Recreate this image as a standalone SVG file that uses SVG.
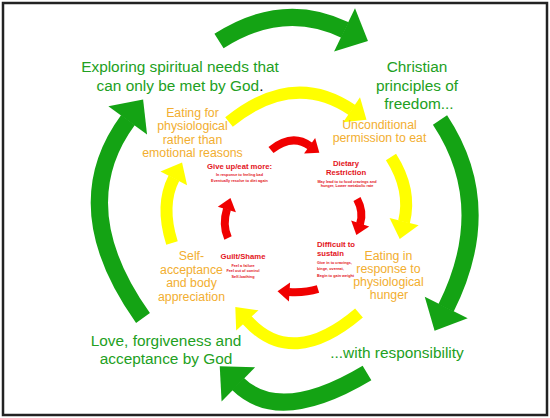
<svg xmlns="http://www.w3.org/2000/svg" width="550" height="418" viewBox="0 0 550 418">
<style>
text{font-family:"Liberation Sans",Arial,sans-serif;}
.g{fill:#22a022;font-size:15.4px;text-anchor:middle;}
.y{fill:#f2ae30;font-size:12.3px;text-anchor:middle;}
.rt{fill:#e3141c;font-size:7.7px;font-weight:bold;}
.rs{fill:#e3141c;font-size:3.8px;font-weight:bold;}
.ag{fill:none;stroke:#14a314;stroke-width:17;marker-end:url(#mg);}
.ay{fill:none;stroke:#ffff00;stroke-width:12;marker-end:url(#my);}
.ar{fill:none;stroke:#f00000;stroke-width:8;marker-end:url(#mr);}
</style>
<defs>
<marker id="mg" markerUnits="userSpaceOnUse" orient="auto" viewBox="-2 -30 40 60" markerWidth="40" markerHeight="60" refX="0.5" refY="0" overflow="visible"><path d="M0,-24L26,0L0,24Z" fill="#14a314"/></marker>
<marker id="my" markerUnits="userSpaceOnUse" orient="auto" viewBox="-2 -20 30 40" markerWidth="30" markerHeight="40" refX="0.5" refY="0" overflow="visible"><path d="M0,-15L18,0L0,15Z" fill="#ffff00"/></marker>
<marker id="mr" markerUnits="userSpaceOnUse" orient="auto" viewBox="-2 -12 20 24" markerWidth="20" markerHeight="24" refX="0.5" refY="0" overflow="visible"><path d="M0,-9.5L12,0L0,9.5Z" fill="#f00000"/></marker>
</defs>
<rect x="3" y="3" width="544" height="412" fill="#fff" stroke="#222" stroke-width="2.5"/>
<g id="connectors">
<path class="ag" d="M219,41 Q283,0 345,30"/>
<path class="ag" d="M440,120 Q497,206 446,308"/>
<path class="ag" d="M367,373 Q280,425 238,384"/>
<path class="ag" d="M143,318 Q64,207 128,120"/>
<path class="ay" d="M229,122 Q293,70 352,110"/>
<path class="ay" d="M391,157 Q412,190 404,222"/>
<path class="ay" d="M359,313 Q292,370 247,320"/>
<path class="ay" d="M172,243 Q160,205 174,178"/>
<path class="ar" d="M271,150 Q292,133 310,146"/>
<path class="ar" d="M357,199 Q364,212 360,224"/>
<path class="ar" d="M318,289 Q305,293 289,292"/>
<path class="ar" d="M228,238 Q222,225 227,209"/>
</g>
<g id="exploring">
<text class="g" x="180" y="72">Exploring spiritual needs that</text>
<text class="g" x="180" y="91">can only be met by God<tspan fill="#000">.</tspan></text>
</g>
<g id="christian">
<text class="g" x="417" y="72">Christian</text>
<text class="g" x="417" y="91">principles of</text>
<text class="g" x="419" y="109">freedom...</text>
</g>
<g id="responsibility">
<text class="g" x="397" y="358">...with responsibility</text>
</g>
<g id="love">
<text class="g" x="166" y="346">Love, forgiveness and</text>
<text class="g" x="166" y="364">acceptance by God</text>
</g>
<g id="eating-for">
<text class="y" x="192.5" y="117">Eating for</text>
<text class="y" x="192.5" y="130.3">physiological</text>
<text class="y" x="192.5" y="143.6">rather than</text>
<text class="y" x="192.5" y="157">emotional reasons</text>
</g>
<g id="unconditional">
<text class="y" x="379.5" y="129">Unconditional</text>
<text class="y" x="379.5" y="142">permission to eat</text>
</g>
<g id="eating-in">
<text class="y" x="388.5" y="260">Eating in</text>
<text class="y" x="388.5" y="273">response to</text>
<text class="y" x="388.5" y="286">physiological</text>
<text class="y" x="389" y="299">hunger</text>
</g>
<g id="self-acceptance">
<text class="y" x="191.5" y="260">Self-</text>
<text class="y" x="191.5" y="273.5">acceptance</text>
<text class="y" x="191.5" y="287">and body</text>
<text class="y" x="191.5" y="300.5">appreciation</text>
</g>
<g id="give-up">
<text class="rt" x="239.5" y="169" text-anchor="middle">Give up/eat more:</text>
<text class="rs" x="239.5" y="176" text-anchor="middle">In response to feeling bad</text>
<text class="rs" x="239.5" y="181.5" text-anchor="middle">Eventually resolve to diet again</text>
</g>
<g id="dietary">
<text class="rt" x="346" y="165.5" text-anchor="middle">Dietary</text>
<text class="rt" x="346" y="174.5" text-anchor="middle">Restriction</text>
<text class="rs" x="347" y="182.5" text-anchor="middle">May lead to to food cravings and</text>
<text class="rs" x="347" y="187" text-anchor="middle">hunger, Lower metabolic rate</text>
</g>
<g id="difficult">
<text class="rt" x="317" y="247.3">Difficult to</text>
<text class="rt" x="317" y="255.7">sustain</text>
<text class="rs" x="317" y="263.5">Give in to cravings,</text>
<text class="rs" x="317" y="270">binge, overeat,</text>
<text class="rs" x="317" y="276.5">Begin to gain weight</text>
</g>
<g id="guilt">
<text class="rt" x="243" y="259" text-anchor="middle">Guilt/Shame</text>
<text class="rs" x="243" y="266.5" text-anchor="middle">Feel a failure</text>
<text class="rs" x="243" y="272" text-anchor="middle">Feel out of control</text>
<text class="rs" x="243" y="277.5" text-anchor="middle">Self-loathing</text>
</g>
</svg>
